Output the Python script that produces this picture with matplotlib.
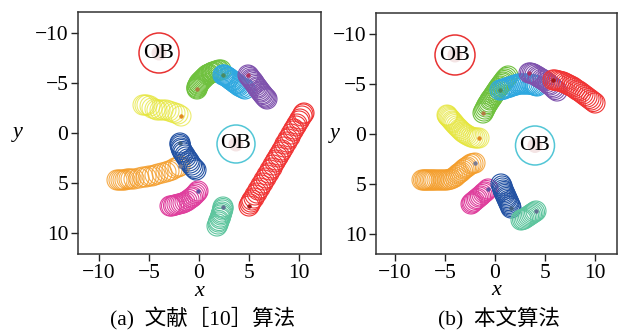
import matplotlib
matplotlib.use("Agg")
import matplotlib.pyplot as plt
from matplotlib.patches import Circle

plt.rcParams["font.family"] = ["Liberation Serif", "DejaVu Serif"]
plt.rcParams["axes.unicode_minus"] = True

# ---------------- data ----------------
# obstacle centres (x, y), radius and ring colour
obs_a = [(-4.0, -8.0, 2.0, "#e83232"), (3.7, 1.1, 1.9, "#52c6d6")]
obs_b = [(-4.0, -7.9, 2.0, "#e83232"), (4.0, 1.15, 1.95, "#52c6d6")]

agent_radius = 1.0

# panel (a): reference [10] algorithm, agent centres over time (first = marked point)
a_green_x = [-0.2, -0.2, -0.2, -0.1, -0.1, 0.0, 0.0, 0.1, 0.2, 0.3, 0.4, 0.5, 0.6,
             0.7, 0.8, 0.9, 1.0, 1.2, 1.3, 1.4, 1.6, 1.7, 1.9, 2.0, 2.2]
a_green_y = [-4.4, -4.5, -4.6, -4.7, -4.8, -4.9, -5.0, -5.1, -5.2, -5.3, -5.4, -5.5, -5.6,
             -5.7, -5.8, -5.85, -5.9, -6.0, -6.05, -6.1, -6.15, -6.2, -6.25, -6.3, -6.3]
a_lblue_x = [2.4, 2.5, 2.6, 2.7, 2.8, 2.9, 3.0, 3.1, 3.2, 3.3, 3.4, 3.5, 3.6, 3.7,
             3.8, 3.9, 4.0, 4.2, 4.4, 4.6]
a_lblue_y = [-5.8, -5.8, -5.75, -5.7, -5.6, -5.55, -5.5, -5.4, -5.3, -5.25, -5.2, -5.1,
             -5.0, -4.95, -4.9, -4.8, -4.7, -4.6, -4.5, -4.4]
a_purple_x = [4.9, 5.0, 5.1, 5.2, 5.3, 5.4, 5.5, 5.6, 5.7, 5.8, 5.9, 6.0, 6.1, 6.2,
              6.3, 6.4, 6.5, 6.6, 6.7, 6.8]
a_purple_y = [-5.8, -5.7, -5.55, -5.4, -5.3, -5.2, -5.05, -4.9, -4.75, -4.6, -4.5, -4.35,
              -4.2, -4.1, -3.95, -3.85, -3.7, -3.6, -3.5, -3.4]
a_red_x = [5.0, 5.1, 5.2, 5.3, 5.5, 5.6, 5.8, 5.9, 6.1, 6.2, 6.4, 6.5, 6.7, 6.8, 7.0,
           7.1, 7.3, 7.4, 7.6, 7.7, 7.9, 8.0, 8.2, 8.3, 8.5, 8.6, 8.8, 8.9, 9.1, 9.2,
           9.4, 9.5, 9.7, 9.8, 10.0, 10.1, 10.3, 10.4, 10.5]
a_red_y = [7.3, 7.1, 6.9, 6.7, 6.5, 6.2, 6.0, 5.7, 5.5, 5.2, 5.0, 4.7, 4.5, 4.2, 4.0,
           3.7, 3.5, 3.2, 2.9, 2.7, 2.4, 2.2, 1.9, 1.7, 1.4, 1.1, 0.9, 0.6, 0.4, 0.1,
           -0.2, -0.4, -0.7, -0.9, -1.2, -1.4, -1.7, -1.9, -2.0]
a_yellow_x = [-1.8, -2.1, -2.4, -2.7, -3.0, -3.3, -3.6, -3.9, -4.2, -4.4, -4.7, -4.9, -5.2, -5.4, -5.6]
a_yellow_y = [-1.7, -1.9, -2.0, -2.1, -2.2, -2.3, -2.3, -2.3, -2.3, -2.4, -2.5, -2.7, -2.8, -2.8, -2.8]
a_dblue_x = [-1.9, -1.9, -1.85, -1.8, -1.75, -1.65, -1.55, -1.4, -1.3, -1.15, -1.0, -0.9,
             -0.75, -0.6, -0.45, -0.3]
a_dblue_y = [1.0, 1.15, 1.3, 1.5, 1.65, 1.85, 2.0, 2.2, 2.4, 2.6, 2.8, 3.0,
             3.2, 3.4, 3.55, 3.7]
a_orange_x = [-1.9, -2.1, -2.4, -2.7, -3.0, -3.3, -3.7, -4.1, -4.4, -4.7, -5.0, -5.3,
              -5.6, -6.0, -6.5, -6.8, -7.0, -7.2, -7.4, -7.6, -7.8, -8.0, -8.2]
a_orange_y = [3.3, 3.4, 3.5, 3.7, 3.8, 3.9, 4.0, 4.1, 4.2, 4.3, 4.3, 4.4,
              4.4, 4.5, 4.6, 4.6, 4.6, 4.6, 4.7, 4.7, 4.7, 4.7, 4.7]
a_magenta_x = [-0.1, -0.2, -0.35, -0.5, -0.65, -0.8, -1.0, -1.2, -1.4, -1.6, -1.8, -2.0,
               -2.2, -2.4, -2.55, -2.75, -2.9]
a_magenta_y = [5.8, 5.95, 6.1, 6.25, 6.4, 6.5, 6.65, 6.8, 6.9, 7.0, 7.05, 7.1,
               7.15, 7.2, 7.25, 7.3, 7.3]
a_teal_x = [2.4, 2.4, 2.35, 2.3, 2.25, 2.2, 2.15, 2.1, 2.0, 1.95, 1.9, 1.8]
a_teal_y = [7.4, 7.55, 7.7, 7.9, 8.05, 8.2, 8.4, 8.55, 8.75, 8.9, 9.1, 9.3]

# panel (b): proposed algorithm
b_green_x = [-1.2, -1.1, -1.0, -0.9, -0.8, -0.7, -0.6, -0.5, -0.4, -0.3, -0.2, -0.1, 0.0,
             0.1, 0.2, 0.3, 0.4, 0.5, 0.6, 0.7, 0.8, 0.9, 1.0, 1.15, 1.3]
b_green_y = [-2.1, -2.3, -2.5, -2.7, -2.9, -3.05, -3.2, -3.4, -3.5, -3.65, -3.8, -3.95, -4.1,
             -4.25, -4.4, -4.55, -4.7, -4.8, -4.95, -5.1, -5.2, -5.35, -5.5, -5.65, -5.8]
b_lblue_x = [0.5, 0.7, 0.9, 1.1, 1.3, 1.5, 1.7, 1.9, 2.1, 2.3, 2.5, 2.7, 2.9, 3.1,
             3.3, 3.5, 3.7, 3.9, 4.05, 4.2]
b_lblue_y = [-4.4, -4.45, -4.5, -4.6, -4.65, -4.7, -4.8, -4.85, -4.9, -5.0, -5.0, -5.0,
             -5.0, -5.0, -5.0, -5.0, -4.95, -4.9, -4.85, -4.8]
b_purple_x = [3.4, 3.55, 3.7, 3.85, 4.0, 4.2, 4.35, 4.5, 4.7, 4.85, 5.0, 5.2, 5.35,
              5.5, 5.7, 5.85, 6.0, 6.2]
b_purple_y = [-6.1, -6.1, -6.05, -6.0, -5.9, -5.8, -5.7, -5.6, -5.5, -5.4, -5.3, -5.15,
              -5.0, -4.9, -4.75, -4.6, -4.45, -4.3]
b_red_x = [5.8, 6.0, 6.2, 6.4, 6.6, 6.8, 7.0, 7.2, 7.4, 7.6, 7.8, 8.0, 8.2, 8.4, 8.6,
           8.8, 9.0, 9.2, 9.4, 9.6, 9.8, 10.0]
b_red_y = [-5.4, -5.4, -5.35, -5.3, -5.25, -5.2, -5.1, -5.0, -4.9, -4.8, -4.7, -4.55,
           -4.4, -4.3, -4.15, -4.0, -3.85, -3.7, -3.55, -3.4, -3.25, -3.1]
b_yellow_x = [-1.6, -1.8, -2.0, -2.2, -2.4, -2.6, -2.8, -2.95, -3.1, -3.25, -3.4, -3.55,
              -3.7, -3.85, -4.0, -4.1, -4.2, -4.3, -4.4, -4.5, -4.6, -4.7, -4.75, -4.8]
b_yellow_y = [0.4, 0.4, 0.4, 0.35, 0.3, 0.2, 0.1, 0.0, -0.1, -0.2, -0.35, -0.5,
              -0.65, -0.8, -0.95, -1.1, -1.2, -1.3, -1.45, -1.55, -1.65, -1.75, -1.85, -1.9]
b_orange_x = [-2.0, -2.2, -2.4, -2.6, -2.8, -2.95, -3.1, -3.25, -3.4, -3.55, -3.7, -3.85,
              -4.0, -4.2, -4.4, -4.6, -4.8, -5.0, -5.2, -5.4, -5.6, -5.8, -6.0, -6.15,
              -6.3, -6.45, -6.6, -6.75, -6.9, -7.0, -7.15, -7.3]
b_orange_y = [2.9, 2.95, 3.0, 3.15, 3.3, 3.4, 3.5, 3.65, 3.8, 3.9, 4.0, 4.15,
              4.3, 4.4, 4.5, 4.55, 4.6, 4.6, 4.6, 4.6, 4.6, 4.6, 4.6, 4.6,
              4.6, 4.6, 4.6, 4.6, 4.6, 4.6, 4.6, 4.6]
b_magenta_x = [-0.7, -0.85, -1.0, -1.15, -1.3, -1.45, -1.6, -1.75, -1.9, -2.05, -2.2, -2.3, -2.4]
b_magenta_y = [5.5, 5.65, 5.8, 5.9, 6.05, 6.2, 6.3, 6.45, 6.55, 6.7, 6.8, 6.9, 7.0]
b_dblue_x = [1.6, 1.55, 1.5, 1.4, 1.35, 1.3, 1.2, 1.15, 1.1, 1.0, 0.95, 0.9, 0.8, 0.75, 0.7, 0.6]
b_dblue_y = [7.4, 7.25, 7.1, 6.95, 6.8, 6.65, 6.5, 6.35, 6.2, 6.05, 5.9, 5.75, 5.6, 5.4, 5.2, 5.0]
b_teal_x = [4.1, 3.95, 3.8, 3.65, 3.5, 3.35, 3.2, 3.05, 2.9, 2.75, 2.6]
b_teal_y = [7.7, 7.8, 7.9, 8.0, 8.1, 8.2, 8.3, 8.4, 8.5, 8.55, 8.6]

# colours: (ring colour, start-point marker colour, alpha)
C_GREEN = ("#6fc13e", "#b07a40", 1.0)
C_LBLUE = ("#2ea8e0", "#4a8a60", 1.0)
C_PURPLE = ("#7f52ad", "#b03060", 1.0)
C_RED = ("#f03434", "#a01818", 1.0)
C_YELLOW = ("#e6e63c", "#e08a20", 0.75)
C_DBLUE = ("#2352a3", "#406080", 1.0)
C_ORANGE = ("#f49e2c", "#7a7a90", 0.85)
C_MAGENTA = ("#df3f9d", "#6050a0", 1.0)
C_TEAL = ("#5ec59e", "#607090", 1.0)

agents_a = [
    (a_yellow_x, a_yellow_y, C_YELLOW),
    (a_orange_x, a_orange_y, C_ORANGE),
    (a_dblue_x, a_dblue_y, C_DBLUE),
    (a_magenta_x, a_magenta_y, C_MAGENTA),
    (a_teal_x, a_teal_y, C_TEAL),
    (a_green_x, a_green_y, C_GREEN),
    (a_lblue_x, a_lblue_y, C_LBLUE),
    (a_purple_x, a_purple_y, C_PURPLE),
    (a_red_x, a_red_y, C_RED),
]
agents_b = [
    (b_yellow_x, b_yellow_y, C_YELLOW),
    (b_orange_x, b_orange_y, C_ORANGE),
    (b_magenta_x, b_magenta_y, C_MAGENTA),
    (b_dblue_x, b_dblue_y, C_DBLUE),
    (b_teal_x, b_teal_y, C_TEAL),
    (b_green_x, b_green_y, C_GREEN),
    (b_lblue_x, b_lblue_y, C_LBLUE),
    (b_purple_x, b_purple_y, C_PURPLE),
    (b_red_x, b_red_y, C_RED),
]

ticks = [-10, -5, 0, 5, 10]
captions = ["(a)\u2002文献［10］算法", "(b)\u2002本文算法"]

# ---------------- figure ----------------
fig = plt.figure(figsize=(6.24, 3.31), dpi=100)
ax_a = fig.add_axes([78 / 624, 1 - 254 / 331, 243 / 624, 242 / 331])
ax_b = fig.add_axes([376 / 624, 1 - 254 / 331, 241 / 624, 241 / 331])


def draw_panel(ax, agents, obstacles, xlim, ylim, ylabel_x):
    for xs, ys, (col, dot, alpha) in agents:
        assert len(xs) == len(ys)
        for x, y in zip(xs[::-1], ys[::-1]):
            ax.add_patch(Circle((x, y), agent_radius, fill=False, edgecolor=col,
                                linewidth=0.8, alpha=alpha))
        ax.plot(xs[0], ys[0], "o", ms=2.6, mfc=dot, mec=dot, mew=0.5, zorder=5)
    for ox, oy, r, col in obstacles:
        ax.add_patch(Circle((ox, oy), 0.75, facecolor="#f4e4e4", edgecolor="none"))
        ax.add_patch(Circle((ox, oy), r, fill=False, edgecolor=col, linewidth=1.1))
        ax.text(ox, oy, "OB", ha="center", va="center", fontsize=16, color="black")
    ax.set_xlim(*xlim)
    ax.set_ylim(*ylim)
    ax.set_xticks(ticks)
    ax.set_yticks(ticks)
    ax.tick_params(direction="out", length=5, width=1.0, labelsize=15.5,
                   color="#222222", pad=2)
    for s in ax.spines.values():
        s.set_linewidth(1.1)
        s.set_color("#333333")
    ax.set_xlabel("x", fontstyle="italic", fontsize=16, va="center")
    ax.xaxis.set_label_coords(0.5, -(291 - 254) / 242)
    ax.set_ylabel("y", fontstyle="italic", fontsize=16, rotation=0,
                  ha="center", va="center")
    ax.yaxis.set_label_coords(ylabel_x, (254 - 133) / 242)


draw_panel(ax_a, agents_a, obs_a, (-12.1, 12.2), (12.1, -12.1), (18 - 78) / 243)
draw_panel(ax_b, agents_b, obs_b, (-11.9, 12.2), (12.0, -12.1), (335 - 376) / 241)

cap_family = ["Liberation Serif", "Noto Sans CJK SC"]
fig.text(203 / 624, 1 - 319 / 331, captions[0], ha="center", va="center",
         fontsize=15.5, family=cap_family)
fig.text(499 / 624, 1 - 319 / 331, captions[1], ha="center", va="center",
         fontsize=15.5, family=cap_family)

fig.savefig("out.png", dpi=100)
